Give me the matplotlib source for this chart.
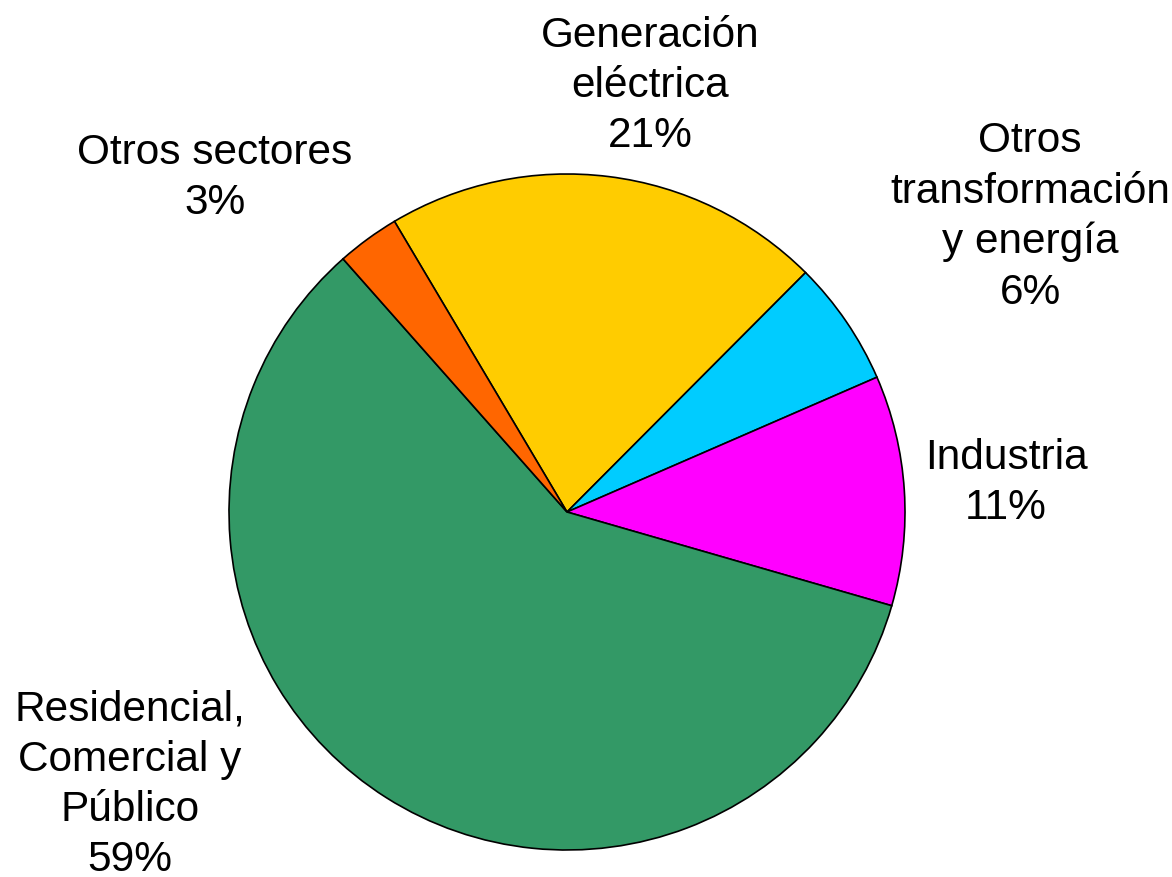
import matplotlib.pyplot as plt

plt.rcParams['font.family'] = ['Liberation Sans', 'DejaVu Sans']

# sectores y porcentajes (en orden horario desde "Generación eléctrica")
sectores = ['Generación\neléctrica', 'Otros\ntransformación\ny energía', 'Industria',
            'Residencial,\nComercial y\nPúblico', 'Otros sectores']
porcentajes = [21, 6, 11, 59, 3]
colores = ['#FFCC00', '#00CCFF', '#FF00FF', '#339966', '#FF6600']

# posiciones de las etiquetas (px en la imagen original)
label_px = [(650, 86), (1030, 217), (1006, 483), (130, 785), (215, 178)]

W, H = 1172, 878
cx, cy, r = 567, 513, 338

fig = plt.figure(figsize=(W / 100, H / 100), dpi=100)
ax = fig.add_axes([0, 0, 1, 1])

ax.pie(porcentajes, colors=colores, startangle=120.7, counterclock=False,
       wedgeprops=dict(edgecolor='black', linewidth=1.2))

for nombre, pct, (px, py) in zip(sectores, porcentajes, label_px):
    ax.text((px - cx) / r, (cy - py) / r, f'{nombre}\n{pct}%', ha='center', va='center',
            fontsize=30.5, linespacing=1.33)

ax.set_xlim(-cx / r, (W - cx) / r)
ax.set_ylim((cy - H) / r, cy / r)
ax.set_aspect('equal')
ax.axis('off')

fig.savefig('out.png', dpi=100, facecolor='white')
